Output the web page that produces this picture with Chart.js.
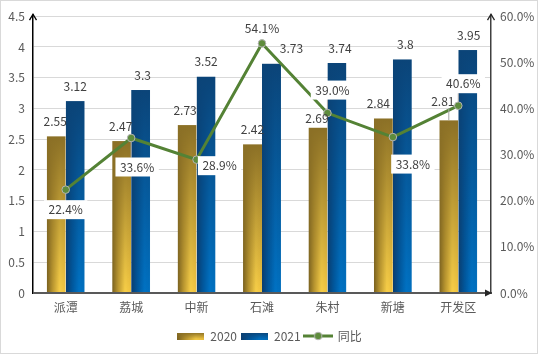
<!DOCTYPE html>
<html><head><meta charset="utf-8">
<script src="https://cdn.jsdelivr.net/npm/chart.js@4.4.1/dist/chart.umd.min.js"></script>
<style>html,body{margin:0;padding:0;background:#fff;}#wrap{width:539px;height:356px;position:relative;}</style>
</head><body><div id="wrap"><canvas id="c" width="539" height="356"></canvas></div>
<script>
// ---- data ----
const categories = ['派潭','荔城','中新','石滩','朱村','新塘','开发区'];
const values2020 = [2.55, 2.47, 2.73, 2.42, 2.69, 2.84, 2.81];
const values2021 = [3.12, 3.3, 3.52, 3.73, 3.74, 3.8, 3.95];
const growthPct  = [22.4, 33.6, 28.9, 54.1, 39.0, 33.8, 40.6];
const seriesNames = ['2020', '2021', '同比'];
const leftAxis  = {min: 0, max: 4.5, step: 0.5};
const rightAxis = {min: 0, max: 60, step: 10};

// ---- style ----
const FONT = "'Noto Sans CJK SC', 'Noto Sans', sans-serif";
const CAT_PCT = 0.58;
const labelShift = [
  [[-1,0],[-1,0],[-2,0],[0,0],[-1,6],[-5,0],[-6,-4]],
  [[0,0],[2,0],[0,0],[20,0],[3,0],[3,0],[1,0]],
  [[0,20],[6,29],[23,6],[0,-15],[5,-23],[20,27],[5,-22]]
];
const GRAD = {
  gold: {h: [[0,'#775f1f'],[0.3,'#b8952f'],[0.68,'#f8cf48'],[1,'#efc23f']], top: [139,112,38]},
  blue: {h: [[0,'#0b3c6d'],[0.35,'#00589e'],[0.7,'#0072c4'],[1,'#006ebd']], top: [11,68,120]}
};

function paintBar(g, kind, x, y, w, h) {
  const s = GRAD[kind];
  const hg = g.createLinearGradient(x, 0, x + w, 0);
  s.h.forEach(([o, c]) => hg.addColorStop(o, c));
  g.fillStyle = hg; g.fillRect(x, y, w, h);
  const t = s.top;
  const vg = g.createLinearGradient(0, y, 0, y + h);
  vg.addColorStop(0, `rgba(${t[0]},${t[1]},${t[2]},1)`);
  vg.addColorStop(1, `rgba(${t[0]},${t[1]},${t[2]},0)`);
  g.fillStyle = vg; g.fillRect(x, y, w, h);
}

function barFill(kind, dsIndex) {
  const solid = kind === 'gold' ? '#c9a234' : '#0063b1';
  return (c) => {
    if (c.type !== 'data') return solid;
    const ch = c.chart, xs = ch.scales.x, ys = ch.scales.y;
    if (!xs || !ys || !(xs.width > 0)) return solid;
    const thick = xs.width / categories.length * CAT_PCT;
    const cx = xs.getPixelForValue(c.dataIndex);
    const left = dsIndex === 0 ? cx - thick / 2 : cx;
    const w = thick / 2;
    const top = ys.getPixelForValue(c.raw);
    const base = ys.getPixelForValue(0);
    const h = base - top;
    if (!isFinite(left) || !isFinite(top) || !(w > 0) || !(h > 0)) return solid;
    const cv = document.createElement('canvas');
    cv.width = Math.ceil(w) + 3; cv.height = Math.ceil(h) + 3;
    paintBar(cv.getContext('2d'), kind, 1, 1, w, h);
    const p = ch.ctx.createPattern(cv, 'no-repeat');
    p.setTransform(new DOMMatrix().translate(left - 1, top - 1));
    return p;
  };
}

function makeIcon(kind) {
  const cv = document.createElement('canvas');
  if (kind === 'line') {
    cv.width = 30; cv.height = 10;
    const g = cv.getContext('2d');
    g.strokeStyle = '#548235'; g.lineWidth = 3;
    g.beginPath(); g.moveTo(0, 5); g.lineTo(30, 5); g.stroke();
    g.beginPath(); g.arc(15, 5, 3.8, 0, Math.PI * 2);
    g.fillStyle = '#5e8c3c'; g.fill();
    g.strokeStyle = '#b4b4b4'; g.lineWidth = 1; g.stroke();
    return cv;
  }
  cv.width = 27; cv.height = 7;
  paintBar(cv.getContext('2d'), kind, 0, 0, 27, 7);
  return cv;
}
const legendIcons = [makeIcon('gold'), makeIcon('blue'), makeIcon('line')];

function drawLabel(ctx, text, lx, ly, ax, ay, box, r) {
  const w = ctx.measureText(text).width + 9, h = box ? 19 : 14;
  const bx = lx - w / 2, by = ly - h / 2;
  const nx = Math.max(bx, Math.min(ax, bx + w)), ny = Math.max(by, Math.min(ay, by + h));
  const d = Math.hypot(nx - ax, ny - ay);
  if (d > 9) {
    const ux = (nx - ax) / d, uy = (ny - ay) / d;
    ctx.strokeStyle = '#a6a6a6'; ctx.lineWidth = 1;
    ctx.beginPath(); ctx.moveTo(ax + ux * r, ay + uy * r); ctx.lineTo(nx, ny); ctx.stroke();
  }
  if (box) { ctx.fillStyle = '#ffffff'; ctx.fillRect(bx, by, w, h); }
  ctx.fillStyle = '#404040';
  ctx.fillText(text, lx, ly);
}

const decorPlugin = {
  id: 'decor',
  beforeDraw(chart) {
    const ctx = chart.ctx;
    ctx.save();
    ctx.fillStyle = '#fff'; ctx.fillRect(0, 0, chart.width, chart.height);
    ctx.strokeStyle = '#d9d9d9'; ctx.lineWidth = 1;
    ctx.strokeRect(0.5, 0.5, 537, 353);
    ctx.restore();
  },
  afterDatasetsDraw(chart) {
    const ctx = chart.ctx, a = chart.chartArea;
    ctx.save();
    ctx.strokeStyle = '#595959'; ctx.lineWidth = 2;
    ctx.beginPath(); ctx.moveTo(a.left, a.bottom); ctx.lineTo(a.right - 2, a.bottom); ctx.stroke();
    ctx.fillStyle = '#262626';
    ctx.beginPath(); ctx.moveTo(a.right + 1, a.bottom); ctx.lineTo(a.right - 6, a.bottom - 3.5); ctx.lineTo(a.right - 6, a.bottom + 3.5); ctx.closePath(); ctx.fill();
    ctx.strokeStyle = '#000'; ctx.lineWidth = 1.3;
    ctx.beginPath(); ctx.moveTo(a.left, a.top); ctx.lineTo(a.left, a.top - 2); ctx.stroke();
    ctx.beginPath(); ctx.moveTo(a.left - 3.5, a.top + 4); ctx.lineTo(a.left, a.top - 2); ctx.lineTo(a.left + 3.5, a.top + 4); ctx.stroke();
    ctx.strokeStyle = '#262626';
    ctx.beginPath(); ctx.moveTo(a.right, a.top); ctx.lineTo(a.right, a.top - 2); ctx.stroke();
    ctx.beginPath(); ctx.moveTo(a.right - 3.5, a.top + 4); ctx.lineTo(a.right, a.top - 2); ctx.lineTo(a.right + 3.5, a.top + 4); ctx.stroke();

    ctx.font = '12px ' + FONT; ctx.textAlign = 'center'; ctx.textBaseline = 'middle';
    [0, 1].forEach(di => {
      chart.getDatasetMeta(di).data.forEach((el, i) => {
        const v = chart.data.datasets[di].data[i];
        const [dx, dy] = labelShift[di][i];
        drawLabel(ctx, String(v), el.x + dx, el.y - 15 + dy, el.x, el.y, false, 0);
      });
    });
    chart.getDatasetMeta(2).data.forEach((el, i) => {
      const v = chart.data.datasets[2].data[i];
      const [dx, dy] = labelShift[2][i];
      drawLabel(ctx, v.toFixed(1) + '%', el.x + dx, el.y + dy, el.x, el.y, true, 4);
    });
    ctx.restore();
  }
};

Chart.defaults.font.family = FONT;
Chart.defaults.font.size = 12;
Chart.defaults.color = '#595959';

new Chart(document.getElementById('c'), {
  type: 'bar',
  data: {
    labels: categories,
    datasets: [
      {label: seriesNames[0], data: values2020, backgroundColor: barFill('gold', 0), yAxisID: 'y', order: 2,
       categoryPercentage: CAT_PCT, barPercentage: 1, borderWidth: 0},
      {label: seriesNames[1], data: values2021, backgroundColor: barFill('blue', 1), yAxisID: 'y', order: 2,
       categoryPercentage: CAT_PCT, barPercentage: 1, borderWidth: 0},
      {type: 'line', label: seriesNames[2], data: growthPct, yAxisID: 'y1', order: 1,
       borderColor: '#548235', borderWidth: 3, tension: 0, fill: false,
       pointRadius: 3.8, pointBackgroundColor: '#5e8c3c', pointBorderColor: '#b4b4b4', pointBorderWidth: 1}
    ]
  },
  options: {
    responsive: false, animation: false,
    layout: {padding: {top: 16, left: 0, right: 0, bottom: 4}},
    plugins: {
      tooltip: {enabled: false},
      legend: {
        position: 'bottom',
        labels: {
          usePointStyle: true, pointStyleWidth: 27, boxHeight: 7, padding: 4,
          color: '#595959', font: {size: 12},
          sort: (a, b) => a.datasetIndex - b.datasetIndex,
          generateLabels(chart) {
            const items = Chart.defaults.plugins.legend.labels.generateLabels(chart);
            items.forEach(it => { it.pointStyle = legendIcons[it.datasetIndex]; });
            return items;
          }
        }
      }
    },
    scales: {
      x: {
        grid: {display: false, drawTicks: false},
        border: {display: true, color: '#595959', width: 2},
        ticks: {padding: 7, color: '#595959', font: {size: 12}},
        afterFit: s => { s.height = 33; }
      },
      y: {
        position: 'left', min: leftAxis.min, max: leftAxis.max,
        ticks: {stepSize: leftAxis.step, padding: 8, color: '#595959', callback: v => String(Math.round(v * 10) / 10)},
        grid: {color: '#d9d9d9', drawTicks: false},
        border: {color: '#000', width: 1.5},
        afterFit: s => { s.width = 33; }
      },
      y1: {
        position: 'right', min: rightAxis.min, max: rightAxis.max,
        ticks: {stepSize: rightAxis.step, padding: 9, color: '#595959', callback: v => v.toFixed(1) + '%'},
        grid: {display: false, drawTicks: false},
        border: {color: '#404040', width: 1.5},
        afterFit: s => { s.width = 48; }
      }
    }
  },
  plugins: [decorPlugin]
});
</script></body></html>
